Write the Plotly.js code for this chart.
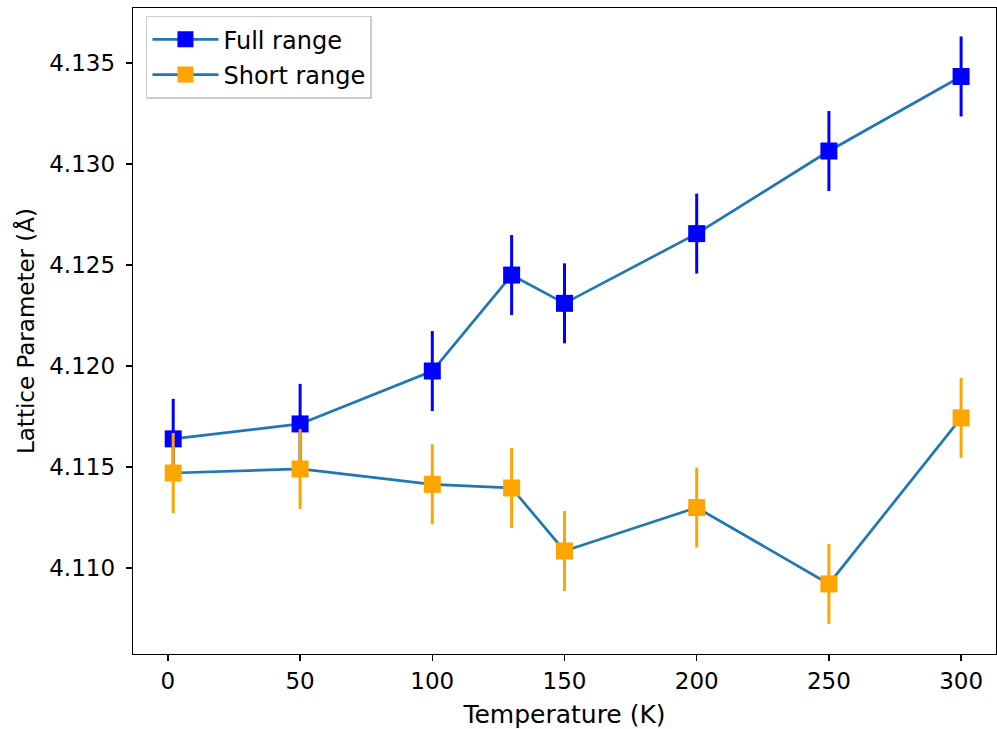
<!DOCTYPE html>
<html>
<head>
<meta charset="utf-8">
<script src="https://cdn.plot.ly/plotly-3.0.1.min.js"></script>
<style>body{margin:0;padding:0;background:#fff;}#chart{width:997px;height:729px;}</style>
</head>
<body>
<div id="chart"></div>
<script>
const temperature = [2, 50, 100, 130, 150, 200, 250, 300];
const fullRange = [4.11639, 4.11713, 4.11975, 4.12450, 4.12310, 4.12655, 4.13064, 4.13433];
const fullErr = [0.00198, 0.00198, 0.00198, 0.00198, 0.00198, 0.00198, 0.00198, 0.00198];
const shortRange = [4.11470, 4.11490, 4.11414, 4.11396, 4.11084, 4.11299, 4.10921, 4.11743];
const shortErr = [0.00198, 0.00198, 0.00198, 0.00198, 0.00198, 0.00198, 0.00198, 0.00198];
const seriesNames = ["Full range", "Short range"];
const xTicks = [0, 50, 100, 150, 200, 250, 300];
const yTicks = [4.110, 4.115, 4.120, 4.125, 4.130, 4.135];

const font = {family: "DejaVu Sans", size: 23, color: "#000"};
const xTitleFont = {family: "DejaVu Sans", size: 25, color: "#000"};
const legendFont = {family: "DejaVu Sans", size: 24, color: "#000"};

function mk(y, err, color, name) {
  return {
    x: temperature, y: y, name: name, type: "scatter", mode: "lines+markers",
    legendgroup: name,
    line: {color: "#1f77b4", width: 2.7},
    marker: {symbol: "square", size: 17, color: color, line: {width: 0}},
    error_y: {type: "data", array: err, visible: true, color: color, thickness: 3, width: 0}
  };
}

const data = [
  mk(fullRange, fullErr, "#0000ff", seriesNames[0]),
  mk(shortRange, shortErr, "#ffa500", seriesNames[1])
];

const layout = {
  width: 997, height: 729,
  margin: {l: 133, r: 1, t: 8, b: 75, pad: 0},
  paper_bgcolor: "#fff", plot_bgcolor: "#fff",
  font: font,
  showlegend: true,
  legend: {
    x: 0.015, y: 0.988, xanchor: "left", yanchor: "top",
    bgcolor: "rgba(255,255,255,0.8)", bordercolor: "#cccccc", borderwidth: 1.5,
    font: legendFont, tracegroupgap: 1, itemwidth: 66
  },
  xaxis: {
    range: [-13.2, 313.2], tickvals: xTicks, ticktext: xTicks.map(String),
    showgrid: false, zeroline: false, showline: true, mirror: true,
    linecolor: "#000", linewidth: 1.3, ticks: "outside", ticklen: 6, tickwidth: 1.3, tickcolor: "#000",
    tickfont: font,
    title: {text: "Temperature (K)", font: xTitleFont, standoff: 13}
  },
  yaxis: {
    range: [4.10574, 4.13772], tickvals: yTicks, ticktext: yTicks.map(v => v.toFixed(3)),
    showgrid: false, zeroline: false, showline: true, mirror: true,
    linecolor: "#000", linewidth: 1.3, ticks: "outside", ticklen: 6, tickwidth: 1.3, tickcolor: "#000",
    tickfont: font, ticklabelstandoff: 6,
    title: {text: "Lattice Parameter (Å)", font: font, standoff: 8}
  }
};

Plotly.newPlot("chart", data, layout, {displayModeBar: false, staticPlot: true});
</script>
</body>
</html>
